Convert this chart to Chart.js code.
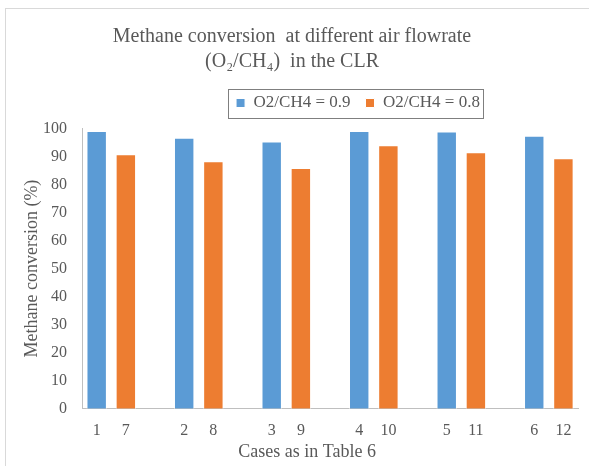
<!DOCTYPE html>
<html>
<head>
<meta charset="utf-8">
<script src="https://cdn.jsdelivr.net/npm/chart.js@4"></script>
<style>
  html, body { margin: 0; padding: 0; background: #fff; }
  #wrap { width: 589px; height: 466px; }
</style>
</head>
<body>
<div id="wrap"><canvas id="chart" width="589" height="466"></canvas></div>
<script>
// Methane conversion per case, two O2/CH4 ratios
const highCases = ['1', '2', '3', '4', '5', '6'];
const lowCases = ['7', '8', '9', '10', '11', '12'];
const highValues = [99.1, 96.7, 95.4, 99.1, 98.9, 97.4];   // O2/CH4 = 0.9
const lowValues = [90.8, 88.3, 85.9, 94.0, 91.5, 89.4];    // O2/CH4 = 0.8
const seriesNames = ['O2/CH4 = 0.9', 'O2/CH4 = 0.8'];
const yTicks = [0, 10, 20, 30, 40, 50, 60, 70, 80, 90, 100];

const SERIF = "'Liberation Serif', 'Times New Roman', serif";
const GREY = '#595959';

// each pair of cases sits side by side, with an empty slot between pairs
const labels = [];
const highData = [];
const lowData = [];
highCases.forEach((c, i) => {
    labels.push(c, lowCases[i]);
    highData.push(highValues[i], null);
    lowData.push(null, lowValues[i]);
    if (i < highCases.length - 1) {
        labels.push('');
        highData.push(null);
        lowData.push(null);
    }
});

const framePlugin = {
    id: 'frame',
    afterLayout(chart) {
        // legend sits right of centre and a bit higher in the original
        const lg = chart.legend;
        lg.left += 66;
        lg.right += 66;
        lg.top -= 7;
        lg.bottom -= 7;

        // x title is centred on the whole figure, not the axis
        const xs = chart.scales.x;
        if (!xs._titleShifted) {
            const drawTitle = xs.drawTitle.bind(xs);
            xs.drawTitle = function() {
                const l = this.left;
                this.left = l - 46;
                drawTitle();
                this.left = l;
            };
            xs._titleShifted = true;
        }
    },
    beforeDraw(chart) {
        const ctx = chart.ctx;
        ctx.save();
        ctx.strokeStyle = '#D9D9D9';
        ctx.lineWidth = 1;
        ctx.strokeRect(5.5, 8.5, 600, 480);
        ctx.restore();
    },
    afterDraw(chart) {
        const boxes = chart.legend.legendHitBoxes;
        if (!boxes || !boxes.length) return;
        const left = Math.min(...boxes.map(b => b.left));
        const right = Math.max(...boxes.map(b => b.left + b.width));
        const top = Math.min(...boxes.map(b => b.top));
        const bottom = Math.max(...boxes.map(b => b.top + b.height));
        const ctx = chart.ctx;
        ctx.save();
        ctx.strokeStyle = '#7F7F7F';
        ctx.lineWidth = 1;
        ctx.strokeRect(Math.round(left - 8) + 0.5, Math.round(top - 6) + 0.5,
            Math.round(right - left + 11), Math.round(bottom - top + 12));
        ctx.restore();
    }
};

new Chart(document.getElementById('chart'), {
    type: 'bar',
    data: {
        labels: labels,
        datasets: [
            {
                label: seriesNames[0],
                data: highData,
                backgroundColor: '#5B9BD5',
                borderColor: '#ffffff',
                borderWidth: 1,
                grouped: false
            },
            {
                label: seriesNames[1],
                data: lowData,
                backgroundColor: '#ED7D31',
                borderColor: '#ffffff',
                borderWidth: 1,
                grouped: false
            }
        ]
    },
    options: {
        responsive: false,
        animation: false,
        devicePixelRatio: 1,
        barPercentage: 0.7,
        categoryPercentage: 1.0,
        layout: { padding: { left: 6, right: 11, top: 0, bottom: 0 } },
        plugins: {
            title: {
                display: true,
                text: ['Methane conversion  at different air flowrate', '(O\u2082/CH\u2084)  in the CLR'],
                color: GREY,
                font: { family: SERIF, size: 20, weight: 'normal', lineHeight: 1.25 },
                padding: { top: 24, bottom: 12.5 }
            },
            legend: {
                display: true,
                position: 'top',
                labels: {
                    color: GREY,
                    font: { family: SERIF, size: 17 },
                    boxWidth: 9,
                    boxHeight: 9,
                    padding: 15
                }
            },
            tooltip: { enabled: false }
        },
        scales: {
            x: {
                grid: { display: false, drawTicks: true, tickLength: 11.5 },
                border: { display: true, color: '#BFBFBF' },
                ticks: {
                    color: GREY,
                    font: { family: SERIF, size: 16 },
                    padding: 0.5,
                    maxRotation: 0,
                    autoSkip: false
                },
                title: {
                    display: true,
                    text: 'Cases as in Table 6',
                    color: GREY,
                    font: { family: SERIF, size: 18 },
                    padding: { top: 1, bottom: 3 }
                }
            },
            y: {
                min: 0,
                max: 100,
                grid: { display: false, drawTicks: true, tickLength: 14.5 },
                border: { display: true, color: '#BFBFBF' },
                afterBuildTicks(scale) {
                    scale.ticks = yTicks.map(v => ({ value: v }));
                },
                ticks: {
                    color: GREY,
                    font: { family: SERIF, size: 16 },
                    padding: 0.5
                },
                title: {
                    display: true,
                    text: 'Methane conversion (%)',
                    color: GREY,
                    font: { family: SERIF, size: 18 },
                    padding: { top: 15, bottom: 0 }
                }
            }
        }
    },
    plugins: [framePlugin]
});
</script>
</body>
</html>
